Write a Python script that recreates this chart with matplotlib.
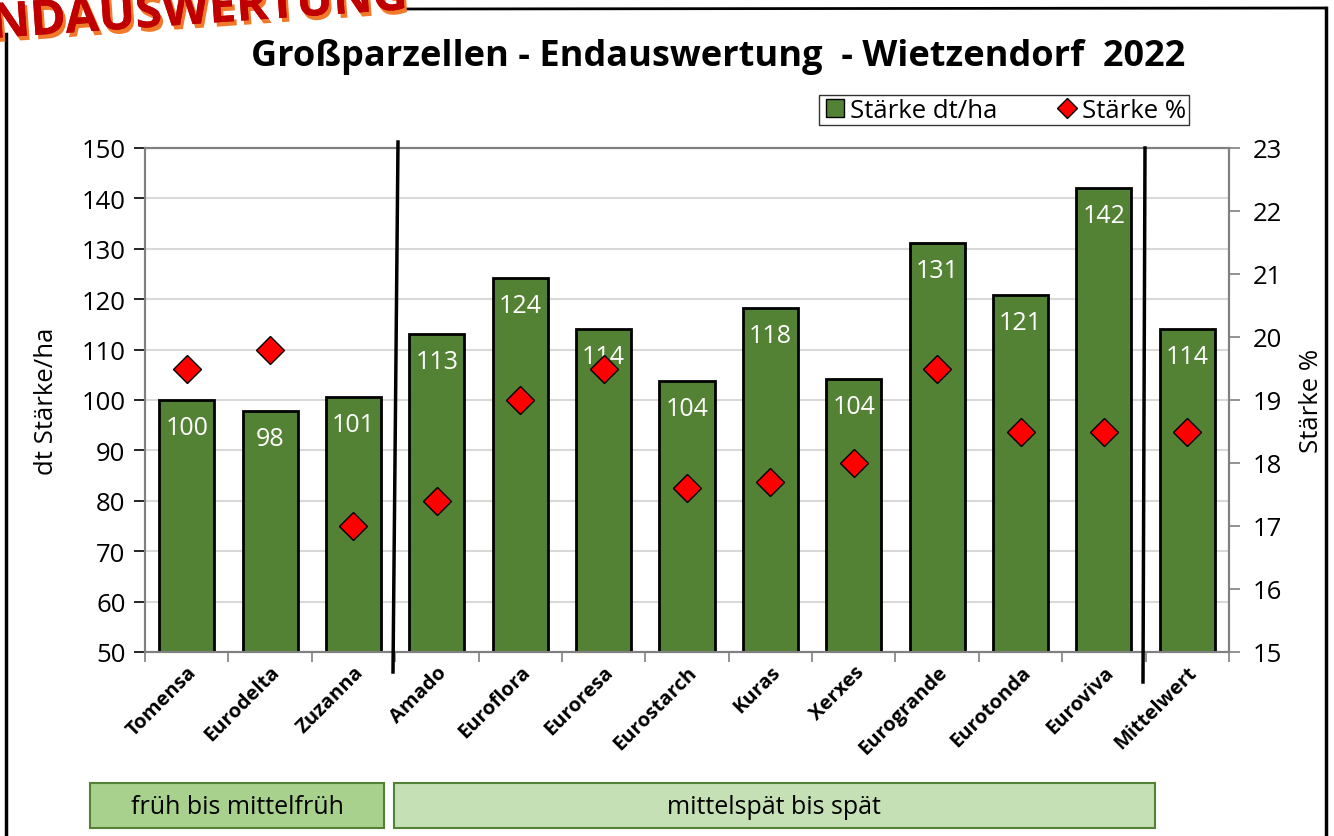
import numpy as np
import matplotlib.pyplot as plt
import matplotlib.patheffects as pe
from matplotlib.lines import Line2D
from matplotlib.patches import Rectangle
from matplotlib.transforms import ScaledTranslation

plt.rcParams['font.family'] = ['Open Sans', 'DejaVu Sans']

sorten = ["Tomensa", "Eurodelta", "Zuzanna", "Amado", "Euroflora", "Euroresa",
          "Eurostarch", "Kuras", "Xerxes", "Eurogrande", "Eurotonda", "Euroviva",
          "Mittelwert"]
staerke_dt = [100.0, 97.8, 100.6, 113.1, 124.2, 114.1, 103.8, 118.3, 104.2,
              131.1, 120.8, 142.1, 114.1]
staerke_pct = [19.5, 19.8, 17.0, 17.4, 19.0, 19.5, 17.6, 17.7, 18.0, 19.5,
               18.5, 18.5, 18.5]

green = "#548235"
W, H = 1334, 837

fig = plt.figure(figsize=(W / 100, H / 100), dpi=100)
ax = fig.add_axes([145 / W, 1 - 653 / H, (1229 - 145) / W, (653 - 149) / H])
ax2 = ax.twinx()

x = np.arange(len(sorten))
ax.bar(x, staerke_dt, width=0.66, bottom=0, color=green, edgecolor="black",
       linewidth=2, zorder=3)
for xi, v in zip(x, staerke_dt):
    ax.text(xi, v - 3.0, f"{v:.0f}", ha="center", va="top", color="white",
            fontsize=18, zorder=4)

ax.set_ylim(50, 150)
ax.set_xlim(-0.5, len(sorten) - 0.5)
ax.set_yticks(np.arange(50, 151, 10))
ax.yaxis.grid(True, color="#D9D9D9", linewidth=1.5)
ax.set_axisbelow(True)
ax.set_xticks(np.arange(-0.5, len(sorten), 1))
ax.set_xticklabels([])
ax.set_xticks(x, minor=True)
ax.set_xticklabels(sorten, minor=True, rotation=45, ha="right",
                   rotation_mode="anchor", fontsize=14.5, fontweight="bold")
# Beschriftungen etwas nach links, wie im Original
shift = ScaledTranslation(-6 / 72, 0, fig.dpi_scale_trans)
for lbl in ax.get_xticklabels(minor=True):
    lbl.set_transform(lbl.get_transform() + shift)
ax.tick_params(axis="x", which="major", length=7, color="#808080", width=1.2)
ax.tick_params(axis="x", which="minor", length=0, pad=7)
ax.tick_params(axis="y", length=8, width=1.2, color="black", labelsize=18.5, pad=6)
ax.set_ylabel("dt Stärke/ha", fontsize=18.5, labelpad=16)

ax2.plot(x, staerke_pct, linestyle="none", marker="D", markersize=14,
         markerfacecolor="red", markeredgecolor="black", markeredgewidth=1,
         zorder=5)
ax2.set_ylim(15, 23)
ax2.set_yticks(np.arange(15, 24, 1))
ax2.tick_params(axis="y", length=8, width=1.2, color="#808080", labelsize=18.5, pad=9)
ax2.set_ylabel("Stärke %", fontsize=18.5, labelpad=12)

for a in (ax, ax2):
    for s in a.spines.values():
        s.set_color("#808080")
        s.set_linewidth(1.5)

# Titel
fig.text(718 / W, 1 - 57 / H, "Großparzellen - Endauswertung  - Wietzendorf  2022",
         ha="center", va="center", fontsize=26, fontweight="bold")

# Legende
leg = [Line2D([], [], marker="s", linestyle="none", markersize=13,
              markerfacecolor=green, markeredgecolor="black"),
       Line2D([], [], marker="D", linestyle="none", markersize=10,
              markerfacecolor="red", markeredgecolor="black")]
fig.legend(leg, ["Stärke dt/ha", "Stärke %"], loc="center",
           bbox_to_anchor=(1004 / W, 1 - 111 / H), ncol=2, frameon=True,
           fancybox=False, edgecolor="black", fontsize=18.5, handletextpad=0.1,
           columnspacing=2.2, borderpad=0.1, handlelength=1.0,
           borderaxespad=0)

# Trennlinien
fig.add_artist(Line2D([398 / W, 393 / W], [1 - 143 / H, 1 - 673 / H],
                      color="black", linewidth=2.5))
fig.add_artist(Line2D([1145 / W, 1143 / W], [1 - 149 / H, 1 - 683 / H],
                      color="black", linewidth=2.5))

# Reifegruppen
fig.add_artist(Rectangle((90 / W, 1 - 829 / H), 294 / W, 45 / H,
                         facecolor="#A9D18E", edgecolor="#548235", linewidth=1.5))
fig.text(237 / W, 1 - 808 / H, "früh bis mittelfrüh", ha="center", va="center",
         fontsize=18)
fig.add_artist(Rectangle((394 / W, 1 - 829 / H), 761 / W, 45 / H,
                         facecolor="#C5E0B4", edgecolor="#548235", linewidth=1.5))
fig.text(774 / W, 1 - 808 / H, "mittelspät bis spät", ha="center", va="center",
         fontsize=18)

# Rahmen
fig.add_artist(Line2D([6 / W, 6 / W], [0, 1 - 35 / H], color="black", linewidth=2.5))
fig.add_artist(Line2D([1326 / W, 1326 / W], [0, 1 - 9 / H], color="black", linewidth=2.5))
fig.add_artist(Line2D([400 / W, 1326 / W], [1 - 10 / H, 1 - 9 / H], color="black",
                      linewidth=2))

# Schriftzug oben links (im Original oben abgeschnitten)
fig.text(-38 / W, 1 - 13 / H, "ENDAUSWERTUNG", ha="left", va="center",
         fontsize=35, fontweight="bold", color="#C00000", rotation=4,
         path_effects=[pe.withSimplePatchShadow(offset=(2, -3), shadow_rgbFace="#F07A2A", alpha=1),
                       pe.Normal()])

fig.savefig("out.png", dpi=100)
